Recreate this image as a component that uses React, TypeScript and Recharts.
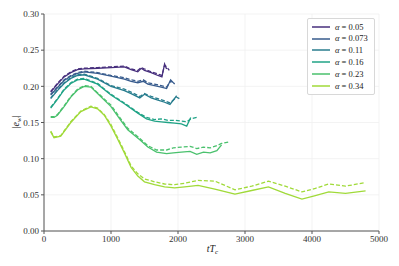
import React from "react";
import { CartesianGrid, Line, LineChart, XAxis, YAxis } from "recharts";

const alphaLabels = ["0.05", "0.073", "0.11", "0.16", "0.23", "0.34"];
const xTicks = [0, 1000, 2000, 3000, 4000, 5000];
const yTicks = [0, 0.05, 0.1, 0.15, 0.2, 0.25, 0.3];

// alpha = 0.05
const times05 = [100, 200, 300, 400, 500, 600, 800, 1000, 1200, 1300, 1400, 1450, 1500, 1600, 1700, 1760, 1800, 1830, 1870];
const solid05 = [0.192, 0.203, 0.213, 0.219, 0.223, 0.224, 0.225, 0.226, 0.227, 0.223, 0.22, 0.225, 0.222, 0.219, 0.215, 0.213, 0.231, 0.224, null];
const dashed05 = [0.193, 0.204, 0.214, 0.22, 0.224, 0.225, 0.226, 0.227, 0.228, 0.224, 0.222, 0.226, 0.224, 0.22, 0.217, 0.215, 0.229, 0.227, 0.222];

// alpha = 0.073
const times073 = [100, 200, 300, 400, 500, 600, 800, 1000, 1200, 1300, 1400, 1480, 1550, 1650, 1750, 1830, 1890, 1950];
const solid073 = [0.188, 0.198, 0.208, 0.214, 0.218, 0.22, 0.218, 0.214, 0.21, 0.207, 0.205, 0.207, 0.203, 0.201, 0.199, 0.197, 0.209, 0.203];
const dashed073 = [0.189, 0.199, 0.209, 0.215, 0.219, 0.221, 0.219, 0.215, 0.212, 0.209, 0.207, 0.209, 0.205, 0.203, 0.201, 0.199, 0.207, 0.204];

// alpha = 0.11
const times11 = [100, 200, 300, 400, 500, 600, 800, 1000, 1200, 1300, 1430, 1500, 1600, 1700, 1800, 1880, 1980, 2020];
const solid11 = [0.183, 0.194, 0.204, 0.211, 0.215, 0.216, 0.21, 0.2, 0.194, 0.19, 0.184, 0.189, 0.184, 0.181, 0.178, 0.175, 0.187, null];
const dashed11 = [0.184, 0.195, 0.205, 0.212, 0.216, 0.217, 0.211, 0.201, 0.196, 0.192, 0.186, 0.19, 0.186, 0.183, 0.18, 0.177, 0.185, 0.183];

// alpha = 0.16
const times16 = [100, 200, 300, 400, 500, 600, 800, 1000, 1200, 1400, 1530, 1650, 1750, 1850, 1950, 2050, 2130, 2190, 2280];
const solid16 = [0.17, 0.182, 0.195, 0.204, 0.209, 0.21, 0.203, 0.188, 0.176, 0.163, 0.155, 0.152, 0.151, 0.15, 0.149, 0.148, 0.145, 0.157, null];
const dashed16 = [0.171, 0.183, 0.196, 0.205, 0.21, 0.211, 0.204, 0.189, 0.177, 0.164, 0.157, 0.154, 0.155, 0.153, 0.153, 0.152, 0.151, 0.155, 0.157];

// alpha = 0.23
const times23 = [100, 150, 200, 300, 400, 500, 600, 700, 800, 1000, 1130, 1250, 1430, 1550, 1680, 1830, 1930, 2050, 2180, 2280, 2380, 2480, 2580, 2650, 2750];
const solid23 = [0.157, 0.157, 0.16, 0.172, 0.185, 0.195, 0.2, 0.199, 0.19, 0.172, 0.155, 0.14, 0.126, 0.116, 0.109, 0.107, 0.108, 0.109, 0.11, 0.106, 0.109, 0.108, 0.111, 0.119, null];
const dashed23 = [0.158, 0.158, 0.161, 0.173, 0.186, 0.196, 0.201, 0.2, 0.191, 0.174, 0.157, 0.142, 0.128, 0.118, 0.112, 0.112, 0.115, 0.116, 0.117, 0.114, 0.116, 0.115, 0.118, 0.121, 0.123];

// alpha = 0.34
const times34 = [100, 150, 250, 400, 550, 700, 800, 900, 1000, 1100, 1200, 1300, 1400, 1500, 1650, 1800, 1950, 2100, 2300, 2550, 2850, 3100, 3350, 3600, 3850, 4050, 4250, 4500, 4800];
const solid34 = [0.137, 0.129, 0.131, 0.15, 0.165, 0.1715, 0.169, 0.16, 0.145, 0.127, 0.108, 0.088, 0.076, 0.068, 0.064, 0.061, 0.0595, 0.061, 0.063, 0.058, 0.051, 0.056, 0.061, 0.052, 0.044, 0.049, 0.054, 0.052, 0.0555];
const dashed34 = [0.138, 0.13, 0.132, 0.151, 0.166, 0.1725, 0.17, 0.161, 0.147, 0.129, 0.11, 0.09, 0.079, 0.072, 0.068, 0.065, 0.064, 0.066, 0.07, 0.069, 0.057, 0.062, 0.069, 0.062, 0.054, 0.059, 0.065, 0.062, 0.067];

const COLOURS = ["#472f7d", "#375b8d", "#287d8e", "#20a386", "#4ac16d", "#a0da39"];
const FONT = "'Liberation Serif', 'DejaVu Serif', serif";

const toPoints = (times: number[], values: (number | null)[]) =>
  times.map((t, i) => ({ t, v: values[i] }));

const series = [
  { solid: toPoints(times05, solid05), dashed: toPoints(times05, dashed05) },
  { solid: toPoints(times073, solid073), dashed: toPoints(times073, dashed073) },
  { solid: toPoints(times11, solid11), dashed: toPoints(times11, dashed11) },
  { solid: toPoints(times16, solid16), dashed: toPoints(times16, dashed16) },
  { solid: toPoints(times23, solid23), dashed: toPoints(times23, dashed23) },
  { solid: toPoints(times34, solid34), dashed: toPoints(times34, dashed34) },
];

// legend drawn by hand so it doesn't eat into the plot area
const LegendBox = () => (
  <div
    style={{
      position: "absolute",
      left: 307,
      top: 18,
      width: 58,
      background: "white",
      border: "1px solid #d8d8d8",
      borderRadius: 2,
      padding: "2px 4px 2px 4px",
      fontFamily: FONT,
      fontSize: 8.5,
      color: "#222",
      lineHeight: 1,
    }}
  >
    {alphaLabels.map((a, i) => (
      <div key={a} style={{ display: "flex", alignItems: "center", height: 11.8 }}>
        <svg width={18} height={4} style={{ marginRight: 5 }}>
          <line x1={0} y1={2} x2={18} y2={2} stroke={COLOURS[i]} strokeWidth={1.5} />
        </svg>
        <span>
          <i>α</i> = {a}
        </span>
      </div>
    ))}
  </div>
);

const XLabel = (props: any) => {
  const vb = props.viewBox;
  return (
    <text x={vb.x + vb.width / 2 + 1} y={252} textAnchor="middle" fontFamily={FONT} fontSize={10} fontStyle="italic" fill="#222">
      tT<tspan fontSize={7} dy={2}>c</tspan>
    </text>
  );
};

const YLabel = () => (
  <text x={0} y={0} transform="translate(19,122) rotate(-90)" textAnchor="middle" fontFamily={FONT} fontSize={10} fill="#222">
    |<tspan fontStyle="italic">e</tspan><tspan fontStyle="italic" fontSize={7} dy={2}>w</tspan><tspan dy={-2}>|</tspan>
  </text>
);

export default function App() {
  const tickStyle = { fontFamily: FONT, fontSize: 9, fill: "#333" };
  return (
    <div style={{ position: "absolute", left: 0, top: 0, width: 399, height: 266, background: "white" }}>
      <LineChart width={399} height={266} margin={{ top: 14, right: 20, bottom: 10, left: 8 }}>
        <CartesianGrid stroke="#f0f0f0" strokeWidth={0.8} />
        <XAxis
          type="number"
          dataKey="t"
          domain={[0, 5000]}
          ticks={xTicks}
          allowDuplicatedCategory={false}
          tick={tickStyle}
          tickSize={3}
          tickLine={{ stroke: "#555" }}
          axisLine={{ stroke: "#555" }}
          height={25}
          label={<XLabel />}
        />
        <XAxis xAxisId="top" orientation="top" type="number" domain={[0, 5000]} height={0} tick={false} tickLine={false} axisLine={{ stroke: "#555" }} />
        <YAxis
          type="number"
          domain={[0, 0.3]}
          ticks={yTicks}
          tickFormatter={(v: number) => v.toFixed(2)}
          tick={tickStyle}
          tickSize={3}
          tickLine={{ stroke: "#555" }}
          axisLine={{ stroke: "#555" }}
          width={36}
          label={<YLabel />}
        />
        <YAxis yAxisId="right" orientation="right" domain={[0, 0.3]} width={0} tick={false} tickLine={false} axisLine={{ stroke: "#555" }} />
        {series.map((s, i) => (
          <Line
            key={`s-${i}`}
            data={s.solid}
            dataKey="v"
            type="linear"
            stroke={COLOURS[i]}
            strokeWidth={1.3}
            dot={false}
            isAnimationActive={false}
          />
        ))}
        {series.map((s, i) => (
          <Line
            key={`d-${i}`}
            data={s.dashed}
            dataKey="v"
            type="linear"
            stroke={COLOURS[i]}
            strokeWidth={1.3}
            strokeDasharray="4 2"
            dot={false}
            isAnimationActive={false}
          />
        ))}
      </LineChart>
      <LegendBox />
    </div>
  );
}
